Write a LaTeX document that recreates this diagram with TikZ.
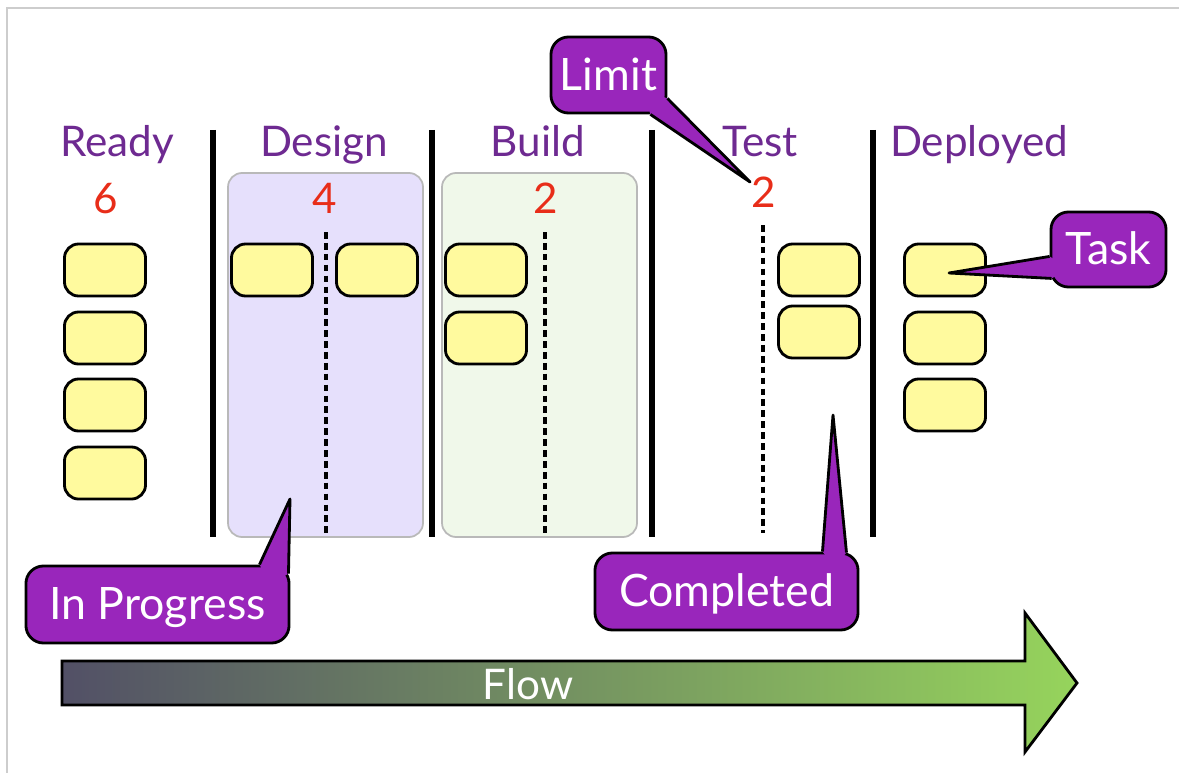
\documentclass[tikz,border=0pt]{standalone}
\usepackage{fontspec}
\setmainfont{Lato}
\usetikzlibrary{calc}

\definecolor{headpurple}{RGB}{110,42,145}
\definecolor{limitred}{RGB}{232,45,25}
\definecolor{bubblepurple}{RGB}{153,38,187}
\definecolor{taskyellow}{RGB}{255,250,158}
\definecolor{designfill}{RGB}{230,224,252}
\definecolor{buildfill}{RGB}{240,248,234}
\definecolor{lanegrey}{RGB}{185,185,185}
\definecolor{framegrey}{RGB}{205,205,205}
\definecolor{flowdark}{RGB}{82,80,102}
\definecolor{flowgreen}{RGB}{150,212,92}

\tikzset{
  task/.style={draw=black, line width=0.8pt, fill=taskyellow, rounded corners=4pt,
    minimum width=0.81cm, minimum height=0.52cm, inner sep=0pt},
  colhead/.style={text=headpurple, font=\fontsize{12}{14}\selectfont, anchor=base},
  wiplimit/.style={text=limitred, font=\fontsize{12}{14}\selectfont, anchor=base},
  divider/.style={line width=1.5pt, black},
  wipline/.style={line width=1pt, dash pattern=on 1.9pt off 1.2pt},
  lane/.style={draw=lanegrey, line width=0.5pt, rounded corners=4pt},
  bubble/.style={draw=black, line width=0.8pt, fill=bubblepurple, rounded corners=5pt,
    text=white, font=\fontsize{12.7}{15}\selectfont, inner sep=0pt,
    text height=0.30cm, text depth=0pt},
  tailfill/.style={fill=bubblepurple},
  tailedge/.style={draw=black, line width=0.8pt, line join=round}
}

\begin{document}
\begin{tikzpicture}[x=0.01cm, y=-0.01cm]
\useasboundingbox (0,0) rectangle (1179,773);
\draw[framegrey, line width=0.6pt] (7,773) -- (7,8) -- (1179,8);

% lanes with a work limit
\draw[lane, fill=designfill] (228,173) rectangle (423,537);
\draw[lane, fill=buildfill] (442,173) rectangle (637,537);

% column dividers
\draw[divider] (213,130) -- (213,537);
\draw[divider] (432,130) -- (432,537);
\draw[divider] (652,130) -- (652,537);
\draw[divider] (873,130) -- (873,537);

% doing | done split
\draw[wipline] (326,232) -- (326,537);
\draw[wipline] (545,232) -- (545,537);
\draw[wipline] (763,225) -- (763,533);

% headers and limits
\node[colhead] (ready) at (117,157) {Ready};
\node[colhead] (design) at (324,157) {Design};
\node[colhead] (build) at (538,157) {Build};
\node[colhead] (test) at (760,157) {Test};
\node[colhead] (deployed) at (979,157) {Deployed};
\node[wiplimit] (readylim) at (106,213) {6};
\node[wiplimit] (designlim) at (325,213) {4};
\node[wiplimit] (buildlim) at (546,213) {2};
\node[wiplimit] (testlim) at (764,208) {2};

% tasks
\node[task] (ready1) at (105,270) {};
\node[task] (ready2) at (105,338) {};
\node[task] (ready3) at (105,405) {};
\node[task] (ready4) at (105,473) {};
\node[task] (design1) at (272,270) {};
\node[task] (design2) at (377,270) {};
\node[task] (build1) at (486,270) {};
\node[task] (build2) at (486,338) {};
\node[task] (test1) at (819,270) {};
\node[task] (test2) at (819,332) {};
\node[task] (dep1) at (945,270) {};
\node[task] (dep2) at (945,338) {};
\node[task] (dep3) at (945,405) {};

% callouts
\node[bubble, minimum width=1.15cm, minimum height=0.76cm] (limit) at (608.5,75) {Limit};
\coordinate (limit tip) at (750,182);
\fill[tailfill] ($(limit.south east)+(-17,0)$) -- (limit tip) -- ($(limit.south east)+(0,-16)$) -- ($(limit.south east)+(-25,-25)$) -- cycle;
\draw[tailedge] ($(limit.south east)+(-17,0)$) -- (limit tip) -- ($(limit.south east)+(0,-16)$);

\node[bubble, minimum width=1.15cm, minimum height=0.75cm] (task) at (1108.5,249.5) {Task};
\coordinate (task tip) at (949,273);
\fill[tailfill] ($(task.south west)+(0,-32)$) -- (task tip) -- ($(task.south west)+(2,-10)$) -- ($(task.south west)+(20,-20)$) -- cycle;
\draw[tailedge] ($(task.south west)+(0,-32)$) -- (task tip) -- ($(task.south west)+(2,-10)$);

\node[bubble, minimum width=2.63cm, minimum height=0.77cm] (progress) at (157.5,604.5) {In Progress};
\coordinate (progress tip) at (290,499);
\fill[tailfill] ($(progress.north east)+(-31,0)$) -- (progress tip) -- ($(progress.north east)+(-2,9)$) -- ($(progress.north east)+(-20,20)$) -- cycle;
\draw[tailedge] ($(progress.north east)+(-31,0)$) -- (progress tip) -- ($(progress.north east)+(-2,9)$);

\node[bubble, minimum width=2.63cm, minimum height=0.77cm] (completed) at (726.5,591.5) {Completed};
\coordinate (completed tip) at (833,415);
\fill[tailfill] ($(completed.north east)+(-37,0)$) -- (completed tip) -- ($(completed.north east)+(-13,1)$) -- ($(completed.north east)+(-25,15)$) -- cycle;
\draw[tailedge] ($(completed.north east)+(-37,0)$) -- (completed tip) -- ($(completed.north east)+(-13,1)$);

% flow arrow
\shade[left color=flowdark, right color=flowgreen, draw=black, line width=0.8pt, line join=miter]
  (62,661) -- (1025,661) -- (1025,613) -- (1077,683) -- (1025,752) -- (1025,705) -- (62,705) -- cycle;
\node[text=white, font=\fontsize{12}{14}\selectfont, anchor=base] (flow) at (528,699) {Flow};
\end{tikzpicture}
\end{document}
